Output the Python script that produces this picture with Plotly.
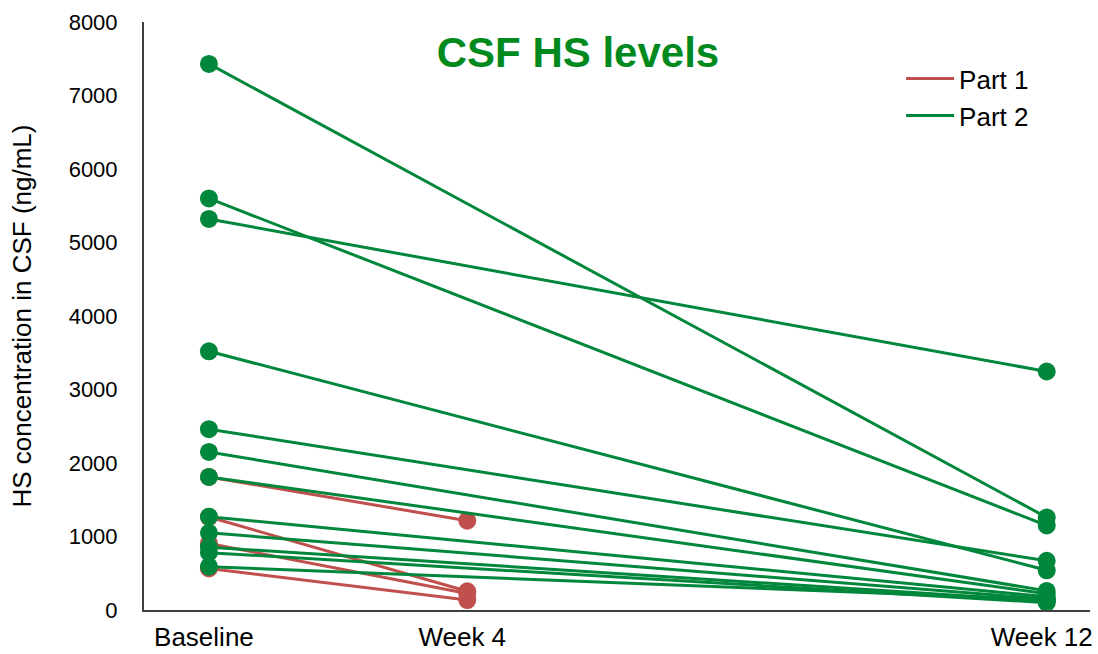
import plotly.graph_objects as go

# Time points (weeks) and labels
time_baseline = 0
time_week4 = 3.7
time_week12 = 12
tick_labels = ["Baseline", "Week 4", "Week 12"]

# Part 1: baseline -> week 4 (ng/mL)
part1_baseline = [1810, 1265, 905, 565]
part1_week4 = [1215, 255, 225, 135]

# Part 2: baseline -> week 12 (ng/mL)
part2_baseline = [7430, 5600, 5320, 3520, 2460, 2150, 1810, 1270, 1050, 855, 780, 590]
part2_week12 = [1260, 1150, 3245, 540, 670, 260, 220, 180, 150, 120, 100, 140]

RED = "#C0504D"
GREEN = "#00873C"

fig = go.Figure()

for b, w in zip(part1_baseline, part1_week4):
    fig.add_trace(go.Scatter(
        x=[time_baseline, time_week4], y=[b, w], mode="lines+markers",
        line=dict(color=RED, width=3), marker=dict(color=RED, size=18),
        showlegend=False, legendgroup="p1", hoverinfo="y"))

for b, w in zip(part2_baseline, part2_week12):
    fig.add_trace(go.Scatter(
        x=[time_baseline, time_week12], y=[b, w], mode="lines+markers",
        line=dict(color=GREEN, width=3), marker=dict(color=GREEN, size=18),
        showlegend=False, legendgroup="p2", hoverinfo="y"))

# legend entries (line only)
fig.add_trace(go.Scatter(x=[None], y=[None], mode="lines", name="Part 1",
                         line=dict(color=RED, width=3), legendgroup="p1"))
fig.add_trace(go.Scatter(x=[None], y=[None], mode="lines", name="Part 2",
                         line=dict(color=GREEN, width=3), legendgroup="p2"))

fig.update_layout(
    width=1098, height=654,
    margin=dict(l=144, r=8, t=22, b=44),
    paper_bgcolor="white", plot_bgcolor="white",
    font=dict(family="Liberation Sans, Arial, sans-serif", color="black"),
    title=dict(text="<b>CSF HS levels</b>", font=dict(size=42, color="#008A1E"),
               x=578/1098, xref="container", xanchor="center",
               y=1-52/654, yref="container", yanchor="middle"),
    legend=dict(x=0.8003, y=0.9435, xanchor="left", yanchor="top",
                font=dict(size=26), bgcolor="rgba(0,0,0,0)",
                itemwidth=48, tracegroupgap=0),
    xaxis=dict(range=[-0.93, 12.62], tickvals=[time_baseline, time_week4, time_week12],
               ticktext=tick_labels, showgrid=False, zeroline=False,
               showline=True, linecolor="#404040", linewidth=2,
               ticks="", tickfont=dict(size=26), ticklabelstandoff=3,
               ticklabeloverflow="allow", ticklabelshift=-5, automargin=False),
    yaxis=dict(range=[0, 8000], tickvals=list(range(0, 8001, 1000)),
               showgrid=False, zeroline=False, showline=True,
               linecolor="#404040", linewidth=2, ticks="",
               tickfont=dict(size=22), ticklabelstandoff=20, automargin=False,
               title=dict(text="HS concentration in CSF (ng/mL)", font=dict(size=26),
                          standoff=30)),
)

fig.write_html("out.html", post_script="document.body.style.margin='0';",
               config={"displayModeBar": False})
